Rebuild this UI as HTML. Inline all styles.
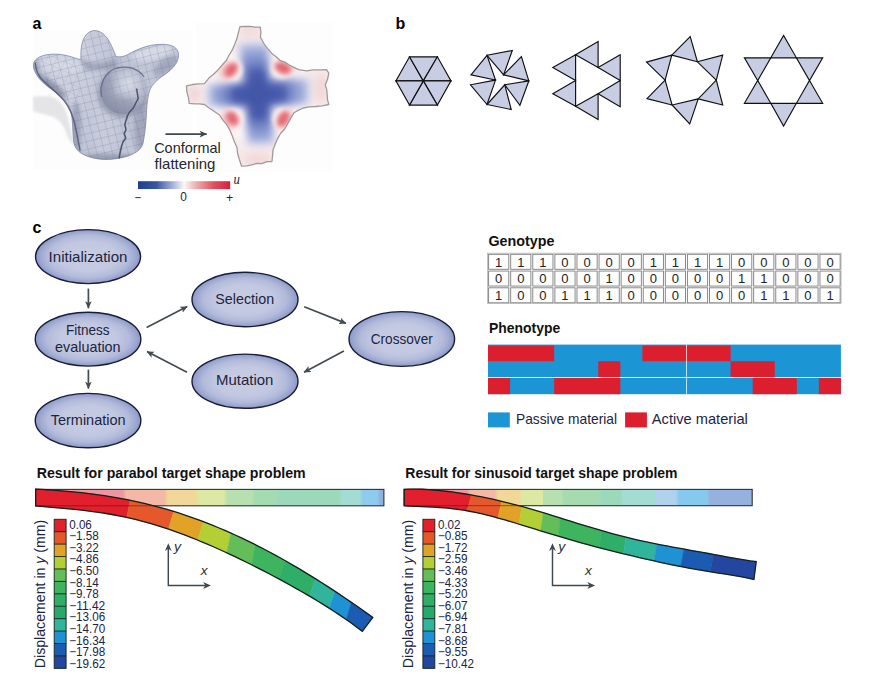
<!DOCTYPE html>
<html><head><meta charset="utf-8"><title>figure</title>
<style>
html,body{margin:0;padding:0;background:#fff;}
body{width:871px;height:688px;overflow:hidden;font-family:"Liberation Sans",sans-serif;}
svg{display:block;font-family:"Liberation Sans",sans-serif;}
.it{font-family:"Liberation Sans",sans-serif;font-style:italic;}
</style></head><body>
<svg width="871" height="688" viewBox="0 0 871 688">
<defs>
<filter id="bl1" x="-30%" y="-30%" width="160%" height="160%"><feGaussianBlur stdDeviation="1"/></filter>
<filter id="bl2" x="-30%" y="-30%" width="160%" height="160%"><feGaussianBlur stdDeviation="2.2"/></filter>
<filter id="bl3" x="-40%" y="-40%" width="180%" height="180%"><feGaussianBlur stdDeviation="3.5"/></filter>
<filter id="bl4" x="-40%" y="-40%" width="180%" height="180%"><feGaussianBlur stdDeviation="4.3"/></filter>
<filter id="bl25" x="-40%" y="-40%" width="180%" height="180%"><feGaussianBlur stdDeviation="2.7"/></filter>
<filter id="bl5" x="-40%" y="-40%" width="180%" height="180%"><feGaussianBlur stdDeviation="5"/></filter>
<filter id="bl8" x="-50%" y="-50%" width="200%" height="200%"><feGaussianBlur stdDeviation="7"/></filter>
<clipPath id="bodyclip"><path d="M81,59.5 C80.5,50 81.5,41 85.3,36 C88,32 91.5,30.6 95,30.6 C100.5,30.8 104.5,34.5 107.8,39 C111,44 113.5,50 116,56.5 C120,57.5 124,56.5 128,54.5 C134,51 140,48.3 146,46.6 C152,44.8 158,44.2 164.5,44.4 C171,44.8 175.5,46.6 177.5,50.5 C179.4,54.5 178.6,59 176,63.5 C173,68.5 168,72.5 162,76.5 C157,80 152,84.5 149.8,90 C147.8,96 147,103 146.6,110 C146.2,121 145.2,132 143.2,142.5 C142,148.5 137,152.5 129.5,155.5 C122,158.3 113,159.6 104,159.4 C96,159.2 88.5,157.3 82.5,154 C77,150.8 74.2,146.5 73.6,141 C72.8,133 72.8,125 72,118 C71.2,111 69,105.5 65,100.5 C60,95 53,90.5 47,86 C41,81.3 36.5,76 34.2,70 C32.6,65.5 33.4,61.5 36.5,59 C40,56 45,54.6 51,54.2 C58,53.8 65,54.8 72,57 C75.5,58.2 78.5,59.4 81,59.5 Z"/></clipPath>
<linearGradient id="bodyg" x1="0" y1="0" x2="1" y2="0.25">
<stop offset="0" stop-color="#c8cfe7"/><stop offset="0.3" stop-color="#ccd2e9"/>
<stop offset="0.6" stop-color="#bcc4e0"/><stop offset="1" stop-color="#c0c8e2"/></linearGradient>
<pattern id="grid" width="7.6" height="7.6" patternUnits="userSpaceOnUse" patternTransform="rotate(-14 100 100)">
<path d="M0,0 H7.6 M0,0 V7.6" stroke="#5f6a98" stroke-width="0.75" fill="none" opacity="0.5"/></pattern>
<pattern id="grid2" width="8.6" height="8.6" patternUnits="userSpaceOnUse" patternTransform="rotate(24 60 70)">
<path d="M0,0 H8.6 M0,0 V8.6" stroke="#5f6a98" stroke-width="0.7" fill="none" opacity="0.45"/></pattern>
<filter id="photo" x="-5%" y="-5%" width="110%" height="110%" color-interpolation-filters="sRGB"><feColorMatrix type="saturate" values="0.62"/><feGaussianBlur stdDeviation="0.35"/></filter>
<radialGradient id="sphg" cx="0.62" cy="0.36" r="0.66">
<stop offset="0" stop-color="#d6dbed"/><stop offset="0.4" stop-color="#bcc3de"/>
<stop offset="0.8" stop-color="#9ca6ca"/><stop offset="1" stop-color="#828cb4"/></radialGradient>
<clipPath id="sphclip"><ellipse cx="123.2" cy="90.4" rx="22.6" ry="23.6"/></clipPath>
<marker id="ah2" viewBox="0 0 10 10" refX="9.4" refY="5" markerWidth="5.1" markerHeight="4.6" markerUnits="strokeWidth" orient="auto">
<path d="M0,0.3 L10,5 L0,9.7 L2.4,5 Z" fill="#3f474e"/></marker>
<linearGradient id="cbar" x1="0" y1="0" x2="1" y2="0">
<stop offset="0" stop-color="#1f3f90"/><stop offset="0.2" stop-color="#3a56a5"/><stop offset="0.38" stop-color="#a9b4dc"/>
<stop offset="0.5" stop-color="#fbf8fa"/><stop offset="0.62" stop-color="#efb3b6"/><stop offset="0.82" stop-color="#df5260"/>
<stop offset="1" stop-color="#d81f3e"/></linearGradient>
<clipPath id="hmclip"><polygon points="240,26.6 245.06,26.48 250.11,26.36 255.14,27.19 260.2,27.1 260.9,32.09 260.4,37.1 264.9,45.2 268.36,49.33 271.9,53.4 276.07,56.71 280,60.3 284.93,62.1 289.3,65 293.95,67.36 298.6,69.7 306.7,70.8 313.26,69.79 319.89,69.97 326.5,69.7 328.8,73.1 327.63,79.12 325.3,84.8 326.74,89.62 327.15,94.63 327.47,99.66 328.8,104.5 322.3,105.82 315.71,106.48 309.1,106.9 303.3,108 298.57,110.19 294,112.7 289.3,120.8 284.7,129 280.7,133.27 277.7,138.3 275.25,144.06 273,149.9 272.59,155.71 271.9,161.5 266.75,161.62 261.9,163.69 256.67,163.35 251.75,164.92 246.73,165.91 241.6,166.2 239.3,159.2 237.63,153.5 237,147.6 234.4,141.85 232.3,135.9 229.8,129.9 226.5,124.3 222.64,119.92 219.5,115 214.36,111.41 209.1,108 204.4,104.5 199.38,103.94 194.32,103.94 189.3,103.4 188.43,97.56 186.83,91.83 186.5,85.9 192.39,84.52 198.38,83.96 204.4,83.6 209.1,77.8 213.32,74.49 217.2,70.8 221.77,65.48 226.5,60.3 229.17,54.97 232.3,49.9 234.76,44.14 237,38.3 238.44,32.43"/></clipPath>
<radialGradient id="hmb" cx="257.5" cy="94.5" r="56" gradientUnits="userSpaceOnUse">
<stop offset="0" stop-color="#4557a9"/><stop offset="0.3" stop-color="#5265b2"/>
<stop offset="0.58" stop-color="#7486c7"/><stop offset="0.82" stop-color="#a3b0dd"/><stop offset="1" stop-color="#ccd3ee"/></radialGradient>
<radialGradient id="egrad" cx="50%" cy="50%" r="50%">
<stop offset="0" stop-color="#c8cde4"/>
<stop offset="0.55" stop-color="#c2c8e1"/>
<stop offset="0.78" stop-color="#b3bbdb"/>
<stop offset="0.92" stop-color="#9ca7d0"/>
<stop offset="1" stop-color="#8a96c6"/>
</radialGradient>
<marker id="ah" viewBox="0 0 10 10" refX="9.4" refY="5" markerWidth="4.3" markerHeight="4.3" markerUnits="strokeWidth" orient="auto">
<path d="M0,0.5 L10,5 L0,9.5 L2.4,5 Z" fill="#444c52"/></marker>
<linearGradient id="sb1" x1="0" y1="0" x2="1" y2="0"><stop offset="0" stop-color="#ee97a0"/><stop offset="0.25" stop-color="#ee97a0"/><stop offset="0.26" stop-color="#f3b9a6"/><stop offset="0.37" stop-color="#f3b9a6"/><stop offset="0.38" stop-color="#f1d899"/><stop offset="0.46" stop-color="#f1d899"/><stop offset="0.47" stop-color="#dde9a2"/><stop offset="0.54" stop-color="#dde9a2"/><stop offset="0.55" stop-color="#b7dfb0"/><stop offset="0.62" stop-color="#b7dfb0"/><stop offset="0.63" stop-color="#a6dbb2"/><stop offset="0.69" stop-color="#a6dbb2"/><stop offset="0.7" stop-color="#9cd9ba"/><stop offset="0.87" stop-color="#9cd9ba"/><stop offset="0.88" stop-color="#a2dcd2"/><stop offset="0.93" stop-color="#a2dcd2"/><stop offset="0.94" stop-color="#8ecbee"/><stop offset="0.98" stop-color="#8ecbee"/><stop offset="0.99" stop-color="#8cb2de"/><stop offset="1" stop-color="#8cb2de"/></linearGradient>
<linearGradient id="sb2" x1="0" y1="0" x2="1" y2="0"><stop offset="0" stop-color="#ee97a0"/><stop offset="0.18" stop-color="#ee97a0"/><stop offset="0.19" stop-color="#f3b9a6"/><stop offset="0.26" stop-color="#f3b9a6"/><stop offset="0.27" stop-color="#f1d899"/><stop offset="0.33" stop-color="#f1d899"/><stop offset="0.34" stop-color="#dde9a2"/><stop offset="0.4" stop-color="#dde9a2"/><stop offset="0.4" stop-color="#b7dfb0"/><stop offset="0.45" stop-color="#b7dfb0"/><stop offset="0.46" stop-color="#a6dbb2"/><stop offset="0.56" stop-color="#a6dbb2"/><stop offset="0.57" stop-color="#9cd9ba"/><stop offset="0.62" stop-color="#9cd9ba"/><stop offset="0.63" stop-color="#a2dcd2"/><stop offset="0.72" stop-color="#a2dcd2"/><stop offset="0.72" stop-color="#b1d2ee"/><stop offset="0.78" stop-color="#b1d2ee"/><stop offset="0.79" stop-color="#86c9ee"/><stop offset="0.87" stop-color="#86c9ee"/><stop offset="0.88" stop-color="#96b1dd"/><stop offset="1" stop-color="#96b1dd"/></linearGradient>
</defs>
<rect x="0" y="0" width="871" height="688" fill="#ffffff"/>
<text x="32.4" y="28.8" font-size="16" font-weight="bold" font-style="normal" text-anchor="start" fill="#000">a</text>
<text x="395.6" y="28.8" font-size="16" font-weight="bold" font-style="normal" text-anchor="start" fill="#000">b</text>
<text x="32.6" y="232.9" font-size="16" font-weight="bold" font-style="normal" text-anchor="start" fill="#000">c</text>
<rect x="196" y="22" width="137" height="150" fill="#fefdfd"/>
<rect x="33" y="30" width="160" height="140" fill="#fdfdfd"/>
<path d="M33.1,96.5 L47,96 C54,96.5 60,100 64.5,108 C68,115 70.5,127 73.8,146 L68,138 C65.5,130 63,124 58,120 C53,116 45,114.5 33.1,111.5 Z" fill="#e4e4e6" filter="url(#bl1)" opacity="0.95"/>
<g filter="url(#photo)">
<path d="M81,59.5 C80.5,50 81.5,41 85.3,36 C88,32 91.5,30.6 95,30.6 C100.5,30.8 104.5,34.5 107.8,39 C111,44 113.5,50 116,56.5 C120,57.5 124,56.5 128,54.5 C134,51 140,48.3 146,46.6 C152,44.8 158,44.2 164.5,44.4 C171,44.8 175.5,46.6 177.5,50.5 C179.4,54.5 178.6,59 176,63.5 C173,68.5 168,72.5 162,76.5 C157,80 152,84.5 149.8,90 C147.8,96 147,103 146.6,110 C146.2,121 145.2,132 143.2,142.5 C142,148.5 137,152.5 129.5,155.5 C122,158.3 113,159.6 104,159.4 C96,159.2 88.5,157.3 82.5,154 C77,150.8 74.2,146.5 73.6,141 C72.8,133 72.8,125 72,118 C71.2,111 69,105.5 65,100.5 C60,95 53,90.5 47,86 C41,81.3 36.5,76 34.2,70 C32.6,65.5 33.4,61.5 36.5,59 C40,56 45,54.6 51,54.2 C58,53.8 65,54.8 72,57 C75.5,58.2 78.5,59.4 81,59.5 Z" fill="url(#bodyg)"/>
<g clip-path="url(#bodyclip)">
<ellipse cx="96" cy="40" rx="9" ry="9" fill="#c3c9e3" filter="url(#bl2)"/>
<path d="M81,58 C90,66 105,64 117,57 L117,70 L80,70 Z" fill="#929cc1" filter="url(#bl2)" opacity="0.85"/>
<ellipse cx="62" cy="65" rx="23" ry="7.5" fill="#d3d8ec" filter="url(#bl2)" opacity="0.95" transform="rotate(8 62 65)"/>
<ellipse cx="152" cy="53" rx="21" ry="6.5" fill="#d6dbee" filter="url(#bl2)" opacity="0.95" transform="rotate(-12 152 53)"/>
<ellipse cx="166" cy="66" rx="14" ry="7" fill="#919bc0" filter="url(#bl2)" opacity="0.7" transform="rotate(-35 166 66)"/>
<ellipse cx="50" cy="86" rx="20" ry="5.5" fill="#8690b7" filter="url(#bl2)" opacity="0.9" transform="rotate(38 50 86)"/>
<ellipse cx="36" cy="68" rx="3.5" ry="9" fill="#8f99be" filter="url(#bl2)" opacity="0.8"/>
<ellipse cx="105" cy="120" rx="14" ry="38" fill="#c5cbe4" filter="url(#bl3)" opacity="0.9"/>
<ellipse cx="76" cy="130" rx="5" ry="28" fill="#919bc0" filter="url(#bl2)" opacity="0.85"/>
<ellipse cx="141" cy="125" rx="7" ry="30" fill="#98a2c6" filter="url(#bl2)" opacity="0.9"/>
<ellipse cx="108" cy="159" rx="34" ry="5" fill="#8e98bd" filter="url(#bl2)" opacity="0.9"/>
<path d="M81,59.5 C80.5,50 81.5,41 85.3,36 C88,32 91.5,30.6 95,30.6 C100.5,30.8 104.5,34.5 107.8,39 C111,44 113.5,50 116,56.5 C120,57.5 124,56.5 128,54.5 C134,51 140,48.3 146,46.6 C152,44.8 158,44.2 164.5,44.4 C171,44.8 175.5,46.6 177.5,50.5 C179.4,54.5 178.6,59 176,63.5 C173,68.5 168,72.5 162,76.5 C157,80 152,84.5 149.8,90 C147.8,96 147,103 146.6,110 C146.2,121 145.2,132 143.2,142.5 C142,148.5 137,152.5 129.5,155.5 C122,158.3 113,159.6 104,159.4 C96,159.2 88.5,157.3 82.5,154 C77,150.8 74.2,146.5 73.6,141 C72.8,133 72.8,125 72,118 C71.2,111 69,105.5 65,100.5 C60,95 53,90.5 47,86 C41,81.3 36.5,76 34.2,70 C32.6,65.5 33.4,61.5 36.5,59 C40,56 45,54.6 51,54.2 C58,53.8 65,54.8 72,57 C75.5,58.2 78.5,59.4 81,59.5 Z" fill="url(#grid)"/>
<path d="M30,50 H80 V104 H30 Z" fill="url(#grid2)" opacity="0.6"/>
</g>
<path d="M81,59.5 C80.5,50 81.5,41 85.3,36 C88,32 91.5,30.6 95,30.6 C100.5,30.8 104.5,34.5 107.8,39 C111,44 113.5,50 116,56.5 C120,57.5 124,56.5 128,54.5 C134,51 140,48.3 146,46.6 C152,44.8 158,44.2 164.5,44.4 C171,44.8 175.5,46.6 177.5,50.5 C179.4,54.5 178.6,59 176,63.5 C173,68.5 168,72.5 162,76.5 C157,80 152,84.5 149.8,90 C147.8,96 147,103 146.6,110 C146.2,121 145.2,132 143.2,142.5 C142,148.5 137,152.5 129.5,155.5 C122,158.3 113,159.6 104,159.4 C96,159.2 88.5,157.3 82.5,154 C77,150.8 74.2,146.5 73.6,141 C72.8,133 72.8,125 72,118 C71.2,111 69,105.5 65,100.5 C60,95 53,90.5 47,86 C41,81.3 36.5,76 34.2,70 C32.6,65.5 33.4,61.5 36.5,59 C40,56 45,54.6 51,54.2 C58,53.8 65,54.8 72,57 C75.5,58.2 78.5,59.4 81,59.5 Z" fill="none" stroke="#7b86b0" stroke-width="0.9" opacity="0.85"/>
<ellipse cx="122" cy="93" rx="24.5" ry="24.5" fill="#8690b6" filter="url(#bl2)" opacity="0.75" clip-path="url(#bodyclip)"/>
<ellipse cx="123.2" cy="90.4" rx="22.6" ry="23.6" fill="url(#sphg)"/>
<g clip-path="url(#sphclip)"><rect x="95" y="60" width="60" height="60" fill="url(#grid)" opacity="0.75"/>
<ellipse cx="118" cy="106" rx="18" ry="9" fill="#8892b8" filter="url(#bl3)" opacity="0.65"/>
<ellipse cx="106" cy="92" rx="8" ry="20" fill="#8a94ba" filter="url(#bl3)" opacity="0.6"/></g>
<path d="M101.5,97 C99,84 105,71.5 117,68 C128,65.2 139,69 144,77" fill="none" stroke="#5c6794" stroke-width="1.3" opacity="0.85"/>
<path d="M136.6,88.5 L138.2,98.5 L135.8,103 L133.4,108 L129.5,112 L127.6,115.5 L125.8,121 L124.8,124.5 L126,129.5 L124.2,133.6 L125.8,138 L123.2,141.5 L121.6,146 L120.6,150.5 L119.6,155 L119.2,158.4" fill="none" stroke="#48527c" stroke-width="1.5" stroke-linejoin="round"/>
<path d="M35.2,62.5 C35.5,70 38,76 44,81.5 C50,87 58,93.5 64,100.5 C70,108 73,116 75,125 C77,134 78.6,143 80,150.5" fill="none" stroke="#525c8a" stroke-width="1.4" opacity="0.9"/>
</g>
<line x1="165.5" y1="134.1" x2="206.6" y2="134.1" stroke="#3f474e" stroke-width="1.6" marker-end="url(#ah2)"/>
<text x="154.2" y="153" font-size="14.6" font-weight="normal" font-style="normal" text-anchor="start" fill="#26262b" textLength="66.6" lengthAdjust="spacingAndGlyphs">Conformal</text>
<text x="154.6" y="168.6" font-size="14.6" font-weight="normal" font-style="normal" text-anchor="start" fill="#26262b" textLength="60.8" lengthAdjust="spacingAndGlyphs">flattening</text>
<rect x="138" y="181.2" width="92.2" height="7.8" fill="url(#cbar)"/>
<text x="233.6" y="183.6" font-family='"Liberation Serif", serif' font-style="italic" font-size="14.6" fill="#26262b" textLength="6.4" lengthAdjust="spacingAndGlyphs">u</text>
<text x="134.4" y="202" font-size="12.4" font-weight="normal" font-style="normal" text-anchor="start" fill="#26262b" textLength="6.6" lengthAdjust="spacingAndGlyphs">−</text>
<text x="180.2" y="201.3" font-size="12.6" font-weight="normal" font-style="normal" text-anchor="start" fill="#26262b" textLength="6.6" lengthAdjust="spacingAndGlyphs">0</text>
<text x="226" y="202" font-size="12.4" font-weight="normal" font-style="normal" text-anchor="start" fill="#26262b" textLength="7.2" lengthAdjust="spacingAndGlyphs">+</text>
<polygon points="240,26.6 245.06,26.48 250.11,26.36 255.14,27.19 260.2,27.1 260.9,32.09 260.4,37.1 264.9,45.2 268.36,49.33 271.9,53.4 276.07,56.71 280,60.3 284.93,62.1 289.3,65 293.95,67.36 298.6,69.7 306.7,70.8 313.26,69.79 319.89,69.97 326.5,69.7 328.8,73.1 327.63,79.12 325.3,84.8 326.74,89.62 327.15,94.63 327.47,99.66 328.8,104.5 322.3,105.82 315.71,106.48 309.1,106.9 303.3,108 298.57,110.19 294,112.7 289.3,120.8 284.7,129 280.7,133.27 277.7,138.3 275.25,144.06 273,149.9 272.59,155.71 271.9,161.5 266.75,161.62 261.9,163.69 256.67,163.35 251.75,164.92 246.73,165.91 241.6,166.2 239.3,159.2 237.63,153.5 237,147.6 234.4,141.85 232.3,135.9 229.8,129.9 226.5,124.3 222.64,119.92 219.5,115 214.36,111.41 209.1,108 204.4,104.5 199.38,103.94 194.32,103.94 189.3,103.4 188.43,97.56 186.83,91.83 186.5,85.9 192.39,84.52 198.38,83.96 204.4,83.6 209.1,77.8 213.32,74.49 217.2,70.8 221.77,65.48 226.5,60.3 229.17,54.97 232.3,49.9 234.76,44.14 237,38.3 238.44,32.43" fill="#f7eaea"/>
<g clip-path="url(#hmclip)">
<g filter="url(#bl3)" fill="#efcccd" opacity="0.6">
<ellipse cx="194" cy="94" rx="7" ry="9"/><ellipse cx="321" cy="88" rx="7" ry="14"/>
<ellipse cx="250" cy="31" rx="10" ry="5"/><ellipse cx="257" cy="159" rx="14" ry="6"/>
</g>
<ellipse cx="257.6" cy="94.3" rx="50" ry="48" fill="#fdf9fa" filter="url(#bl5)" opacity="0.9"/>
<g filter="url(#bl4)" fill="url(#hmb)">
<polygon points="238.5,43.5 268.5,43.5 270,94 245,94"/>
<polygon points="245,94 270,94 274.5,144 247.5,144"/>
<polygon points="208,84.5 258,82 258,107 208,106"/>
<polygon points="258,80 309,78.5 309,104 258,107"/>
</g>
<g filter="url(#bl3)" fill="#4254a7" opacity="0.8">
<polygon points="250.5,70 263.5,70 265.5,119 252.5,119"/>
<polygon points="232,88.5 286,87 286,100 232,101.5"/>
</g>
<g filter="url(#bl2)" fill="#fdf6f6" opacity="0.97">
<circle cx="232.4" cy="69.2" r="10.2"/>
<circle cx="282.4" cy="67.6" r="10.6"/>
<circle cx="232.6" cy="118.6" r="10.2"/>
<circle cx="283.0" cy="119.2" r="10.4"/>
</g>
<g filter="url(#bl3)" fill="#f2b4b6" opacity="0.85">
<ellipse cx="226.5" cy="70.5" rx="6" ry="10" transform="rotate(40 226.5 70.5)"/>
<ellipse cx="286.5" cy="65.8" rx="10" ry="5.5" transform="rotate(24 286.5 65.8)"/>
<ellipse cx="228.5" cy="120.5" rx="6" ry="9.5" transform="rotate(-36 228.5 120.5)"/>
<ellipse cx="286.0" cy="120.0" rx="5.5" ry="10" transform="rotate(30 286 120)"/>
</g>
<g filter="url(#bl25)" fill="#e05560" opacity="0.85">
<ellipse cx="231.4" cy="70.0" rx="5.4" ry="8.2" transform="rotate(38 231.4 70)"/>
<ellipse cx="282.6" cy="68.2" rx="8.6" ry="5.4" transform="rotate(24 282.6 68.2)"/>
<ellipse cx="232.6" cy="118.2" rx="5.4" ry="8.0" transform="rotate(-34 232.6 118.2)"/>
<ellipse cx="283.0" cy="118.8" rx="5.2" ry="8.6" transform="rotate(30 283 118.8)"/>
</g>
</g>
<polygon points="240,26.6 245.06,26.48 250.11,26.36 255.14,27.19 260.2,27.1 260.9,32.09 260.4,37.1 264.9,45.2 268.36,49.33 271.9,53.4 276.07,56.71 280,60.3 284.93,62.1 289.3,65 293.95,67.36 298.6,69.7 306.7,70.8 313.26,69.79 319.89,69.97 326.5,69.7 328.8,73.1 327.63,79.12 325.3,84.8 326.74,89.62 327.15,94.63 327.47,99.66 328.8,104.5 322.3,105.82 315.71,106.48 309.1,106.9 303.3,108 298.57,110.19 294,112.7 289.3,120.8 284.7,129 280.7,133.27 277.7,138.3 275.25,144.06 273,149.9 272.59,155.71 271.9,161.5 266.75,161.62 261.9,163.69 256.67,163.35 251.75,164.92 246.73,165.91 241.6,166.2 239.3,159.2 237.63,153.5 237,147.6 234.4,141.85 232.3,135.9 229.8,129.9 226.5,124.3 222.64,119.92 219.5,115 214.36,111.41 209.1,108 204.4,104.5 199.38,103.94 194.32,103.94 189.3,103.4 188.43,97.56 186.83,91.83 186.5,85.9 192.39,84.52 198.38,83.96 204.4,83.6 209.1,77.8 213.32,74.49 217.2,70.8 221.77,65.48 226.5,60.3 229.17,54.97 232.3,49.9 234.76,44.14 237,38.3 238.44,32.43" fill="none" stroke="#a29a9a" stroke-width="1.3" stroke-linejoin="round"/>
<g fill="#c9cde3" stroke="#101014" stroke-width="1.15" stroke-linejoin="miter">
<polygon points="423.3,80.9 395.9,80.9 409.5,56.8"/>
<polygon points="423.3,80.9 409.5,56.8 437.4,56.8"/>
<polygon points="423.3,80.9 437.4,56.8 451,80.9"/>
<polygon points="423.3,80.9 451,80.9 437.4,105.1"/>
<polygon points="423.3,80.9 437.4,105.1 409.5,105.1"/>
<polygon points="423.3,80.9 409.5,105.1 395.9,80.9"/>
<polygon points="487,55.3 471,74.9 495.5,80.1"/>
<polygon points="487,55.3 512.3,50.5 503.6,74.9"/>
<polygon points="503.6,74.9 521.4,56.5 528.8,80.9"/>
<polygon points="528.8,80.9 504.8,84.8 519.9,105.3"/>
<polygon points="504.8,84.8 511.2,109.5 487,104.5"/>
<polygon points="487,104.5 470.5,84.8 495.5,80.1"/>
<polygon points="575.6,54.7 552.8,67.5 575.6,80.6"/>
<polygon points="575.6,54.7 598.1,41.6 598.1,67.5"/>
<polygon points="598.1,67.5 620.2,54.7 620.2,80.6"/>
<polygon points="620.2,80.6 598.1,93.7 620.2,106.7"/>
<polygon points="598.1,93.7 598.1,119.4 575.6,106.3"/>
<polygon points="575.6,106.3 552.8,93.7 575.6,80.6"/>
<polygon points="671.8,55.1 646.5,62.1 665.1,80.2"/>
<polygon points="671.8,55.1 690.2,36.5 697.4,61.8"/>
<polygon points="697.4,61.8 722.7,55.1 716.3,80.2"/>
<polygon points="716.3,80.2 722.7,105 698.2,98.9"/>
<polygon points="698.2,98.9 689.7,123.9 672.1,105"/>
<polygon points="672.1,105 647,98.6 665.1,80.2"/>
<polygon points="770.8,57.8 783.6,35.4 796.4,57.8"/>
<polygon points="796.4,57.8 822.7,57.8 809.5,80.5"/>
<polygon points="809.5,80.5 822.7,103.3 796.4,103.3"/>
<polygon points="796.4,103.3 783.6,126 770.8,103.3"/>
<polygon points="770.8,103.3 744.4,103.3 757.7,80.5"/>
<polygon points="757.7,80.5 744.4,57.8 770.8,57.8"/>
</g>
<ellipse cx="88.05" cy="256.6" rx="52.5" ry="27" fill="url(#egrad)" stroke="#171d38" stroke-width="1.4"/>
<ellipse cx="88.05" cy="339.2" rx="52.8" ry="26.9" fill="url(#egrad)" stroke="#171d38" stroke-width="1.4"/>
<ellipse cx="88.05" cy="420.6" rx="52.8" ry="27.2" fill="url(#egrad)" stroke="#171d38" stroke-width="1.4"/>
<ellipse cx="245" cy="299.5" rx="53" ry="27.2" fill="url(#egrad)" stroke="#171d38" stroke-width="1.4"/>
<ellipse cx="245" cy="381.2" rx="53" ry="27.1" fill="url(#egrad)" stroke="#171d38" stroke-width="1.4"/>
<ellipse cx="401.8" cy="339" rx="52.8" ry="27.4" fill="url(#egrad)" stroke="#171d38" stroke-width="1.4"/>
<text x="48.6" y="262.2" font-size="14.8" font-weight="normal" font-style="normal" text-anchor="start" fill="#1d2440" textLength="78.9" lengthAdjust="spacingAndGlyphs">Initialization</text>
<text x="66" y="335.3" font-size="14.8" font-weight="normal" font-style="normal" text-anchor="start" fill="#1d2440" textLength="43.6" lengthAdjust="spacingAndGlyphs">Fitness</text>
<text x="55.1" y="351.9" font-size="14.8" font-weight="normal" font-style="normal" text-anchor="start" fill="#1d2440" textLength="65.5" lengthAdjust="spacingAndGlyphs">evaluation</text>
<text x="50.7" y="424.8" font-size="14.8" font-weight="normal" font-style="normal" text-anchor="start" fill="#1d2440" textLength="74.9" lengthAdjust="spacingAndGlyphs">Termination</text>
<text x="215.3" y="303.6" font-size="14.8" font-weight="normal" font-style="normal" text-anchor="start" fill="#1d2440" textLength="58.8" lengthAdjust="spacingAndGlyphs">Selection</text>
<text x="216" y="385" font-size="14.8" font-weight="normal" font-style="normal" text-anchor="start" fill="#1d2440" textLength="57.4" lengthAdjust="spacingAndGlyphs">Mutation</text>
<text x="370.7" y="343.8" font-size="14.8" font-weight="normal" font-style="normal" text-anchor="start" fill="#1d2440" textLength="62.1" lengthAdjust="spacingAndGlyphs">Crossover</text>
<line x1="88.4" y1="288.6" x2="88.4" y2="308.2" stroke="#444c52" stroke-width="1.7" marker-end="url(#ah)"/>
<line x1="88.4" y1="369.6" x2="88.4" y2="388.6" stroke="#444c52" stroke-width="1.7" marker-end="url(#ah)"/>
<line x1="146.6" y1="327.4" x2="187.2" y2="306.6" stroke="#444c52" stroke-width="1.7" marker-end="url(#ah)"/>
<line x1="304.2" y1="306.7" x2="346" y2="323.4" stroke="#444c52" stroke-width="1.7" marker-end="url(#ah)"/>
<line x1="343.9" y1="351.1" x2="304" y2="372.2" stroke="#444c52" stroke-width="1.7" marker-end="url(#ah)"/>
<line x1="187" y1="372.2" x2="147" y2="351.6" stroke="#444c52" stroke-width="1.7" marker-end="url(#ah)"/>
<text x="488.5" y="245.9" font-size="14" font-weight="bold" font-style="normal" text-anchor="start" fill="#111" textLength="65.9" lengthAdjust="spacingAndGlyphs">Genotype</text>
<rect x="487.5" y="253.2" width="353.6" height="50" fill="#fff" stroke="#b3b3b3" stroke-width="0.8"/>
<g fill="#fdfdfd" stroke="#7e7e7e" stroke-width="0.9">
<rect x="488.6" y="254.3" width="20.2" height="15.0"/>
<rect x="510.69" y="254.3" width="20.2" height="15.0"/>
<rect x="532.78" y="254.3" width="20.2" height="15.0"/>
<rect x="554.87" y="254.3" width="20.2" height="15.0"/>
<rect x="576.96" y="254.3" width="20.2" height="15.0"/>
<rect x="599.05" y="254.3" width="20.2" height="15.0"/>
<rect x="621.14" y="254.3" width="20.2" height="15.0"/>
<rect x="643.23" y="254.3" width="20.2" height="15.0"/>
<rect x="665.32" y="254.3" width="20.2" height="15.0"/>
<rect x="687.41" y="254.3" width="20.2" height="15.0"/>
<rect x="709.5" y="254.3" width="20.2" height="15.0"/>
<rect x="731.59" y="254.3" width="20.2" height="15.0"/>
<rect x="753.68" y="254.3" width="20.2" height="15.0"/>
<rect x="775.77" y="254.3" width="20.2" height="15.0"/>
<rect x="797.86" y="254.3" width="20.2" height="15.0"/>
<rect x="819.95" y="254.3" width="20.2" height="15.0"/>
<rect x="488.6" y="271.05" width="20.2" height="15.0"/>
<rect x="510.69" y="271.05" width="20.2" height="15.0"/>
<rect x="532.78" y="271.05" width="20.2" height="15.0"/>
<rect x="554.87" y="271.05" width="20.2" height="15.0"/>
<rect x="576.96" y="271.05" width="20.2" height="15.0"/>
<rect x="599.05" y="271.05" width="20.2" height="15.0"/>
<rect x="621.14" y="271.05" width="20.2" height="15.0"/>
<rect x="643.23" y="271.05" width="20.2" height="15.0"/>
<rect x="665.32" y="271.05" width="20.2" height="15.0"/>
<rect x="687.41" y="271.05" width="20.2" height="15.0"/>
<rect x="709.5" y="271.05" width="20.2" height="15.0"/>
<rect x="731.59" y="271.05" width="20.2" height="15.0"/>
<rect x="753.68" y="271.05" width="20.2" height="15.0"/>
<rect x="775.77" y="271.05" width="20.2" height="15.0"/>
<rect x="797.86" y="271.05" width="20.2" height="15.0"/>
<rect x="819.95" y="271.05" width="20.2" height="15.0"/>
<rect x="488.6" y="287.8" width="20.2" height="15.0"/>
<rect x="510.69" y="287.8" width="20.2" height="15.0"/>
<rect x="532.78" y="287.8" width="20.2" height="15.0"/>
<rect x="554.87" y="287.8" width="20.2" height="15.0"/>
<rect x="576.96" y="287.8" width="20.2" height="15.0"/>
<rect x="599.05" y="287.8" width="20.2" height="15.0"/>
<rect x="621.14" y="287.8" width="20.2" height="15.0"/>
<rect x="643.23" y="287.8" width="20.2" height="15.0"/>
<rect x="665.32" y="287.8" width="20.2" height="15.0"/>
<rect x="687.41" y="287.8" width="20.2" height="15.0"/>
<rect x="709.5" y="287.8" width="20.2" height="15.0"/>
<rect x="731.59" y="287.8" width="20.2" height="15.0"/>
<rect x="753.68" y="287.8" width="20.2" height="15.0"/>
<rect x="775.77" y="287.8" width="20.2" height="15.0"/>
<rect x="797.86" y="287.8" width="20.2" height="15.0"/>
<rect x="819.95" y="287.8" width="20.2" height="15.0"/>
</g>
<g font-size="13" text-anchor="middle" fill="#222">
<text x="498.7" y="266.5">1</text>
<text x="520.79" y="266.5">1</text>
<text x="542.88" y="266.5">1</text>
<text x="564.97" y="266.5">0</text>
<text x="587.06" y="266.5">0</text>
<text x="609.15" y="266.5">0</text>
<text x="631.24" y="266.5">0</text>
<text x="653.33" y="266.5">1</text>
<text x="675.42" y="266.5">1</text>
<text x="697.51" y="266.5">1</text>
<text x="719.6" y="266.5">1</text>
<text x="741.69" y="266.5">0</text>
<text x="763.78" y="266.5">0</text>
<text x="785.87" y="266.5">0</text>
<text x="807.96" y="266.5">0</text>
<text x="830.05" y="266.5">0</text>
<text x="498.7" y="283.25">0</text>
<text x="520.79" y="283.25">0</text>
<text x="542.88" y="283.25">0</text>
<text x="564.97" y="283.25">0</text>
<text x="587.06" y="283.25">0</text>
<text x="609.15" y="283.25">1</text>
<text x="631.24" y="283.25">0</text>
<text x="653.33" y="283.25">0</text>
<text x="675.42" y="283.25">0</text>
<text x="697.51" y="283.25">0</text>
<text x="719.6" y="283.25">0</text>
<text x="741.69" y="283.25">1</text>
<text x="763.78" y="283.25">1</text>
<text x="785.87" y="283.25">0</text>
<text x="807.96" y="283.25">0</text>
<text x="830.05" y="283.25">0</text>
<text x="498.7" y="300">1</text>
<text x="520.79" y="300">0</text>
<text x="542.88" y="300">0</text>
<text x="564.97" y="300">1</text>
<text x="587.06" y="300">1</text>
<text x="609.15" y="300">1</text>
<text x="631.24" y="300">0</text>
<text x="653.33" y="300">0</text>
<text x="675.42" y="300">0</text>
<text x="697.51" y="300">0</text>
<text x="719.6" y="300">0</text>
<text x="741.69" y="300">0</text>
<text x="763.78" y="300">1</text>
<text x="785.87" y="300">1</text>
<text x="807.96" y="300">0</text>
<text x="830.05" y="300">1</text>
</g>
<text x="489" y="332.9" font-size="14" font-weight="bold" font-style="normal" text-anchor="start" fill="#111" textLength="71.2" lengthAdjust="spacingAndGlyphs">Phenotype</text>
<rect x="488" y="344.6" width="352.9" height="49.6" fill="#1b95d3"/>
<rect x="488" y="345.6" width="66.17" height="15.6" fill="#dc1f2e"/>
<rect x="642.39" y="345.6" width="88.22" height="15.6" fill="#dc1f2e"/>
<rect x="598.28" y="361.2" width="22.06" height="16.2" fill="#dc1f2e"/>
<rect x="730.62" y="361.2" width="44.11" height="16.2" fill="#dc1f2e"/>
<rect x="488" y="377.4" width="22.06" height="16.8" fill="#dc1f2e"/>
<rect x="554.17" y="377.4" width="66.17" height="16.8" fill="#dc1f2e"/>
<rect x="752.67" y="377.4" width="44.11" height="16.8" fill="#dc1f2e"/>
<rect x="818.84" y="377.4" width="22.06" height="16.8" fill="#dc1f2e"/>
<line x1="488" y1="377.5" x2="840.9" y2="377.5" stroke="#fff" stroke-width="0.9" opacity="0.95"/>
<line x1="686.51" y1="344.6" x2="686.51" y2="394.2" stroke="#fff" stroke-width="0.8" opacity="0.9"/>
<rect x="488" y="412.4" width="21.8" height="15" fill="#1b95d3"/>
<rect x="625.1" y="412.4" width="21.8" height="15" fill="#dc1f2e"/>
<text x="516" y="424.2" font-size="14.5" font-weight="normal" font-style="normal" text-anchor="start" fill="#1d2440" textLength="101" lengthAdjust="spacingAndGlyphs">Passive material</text>
<text x="651.8" y="424.2" font-size="14.5" font-weight="normal" font-style="normal" text-anchor="start" fill="#1d2440" textLength="96" lengthAdjust="spacingAndGlyphs">Active material</text>
<text x="36.7" y="478.1" font-size="14" font-weight="bold" font-style="normal" text-anchor="start" fill="#111" textLength="269" lengthAdjust="spacingAndGlyphs">Result for parabol target shape problem</text>
<text x="405.3" y="478.1" font-size="14" font-weight="bold" font-style="normal" text-anchor="start" fill="#111" textLength="272.2" lengthAdjust="spacingAndGlyphs">Result for sinusoid target shape problem</text>
<rect x="35.7" y="489.4" width="348.2" height="16.4" fill="url(#sb1)" stroke="#2a3434" stroke-width="1.1"/>
<polygon points="35.7,489.04 42.95,489.49 50.21,489.97 57.46,490.5 64.72,491.09 71.97,491.75 79.22,492.48 86.48,493.29 93.73,494.19 100.98,495.19 108.24,496.29 115.49,497.49 122.75,498.81 130,500.24 126.8,517.49 119.79,516.01 112.78,514.66 105.78,513.45 98.77,512.36 91.76,511.38 84.75,510.51 77.75,509.73 70.74,509.02 63.73,508.37 56.72,507.75 49.72,507.14 42.71,506.51 35.7,505.84" fill="#e21f2d" stroke="#e21f2d" stroke-width="0.5"/>
<polygon points="130,500.24 133.36,500.94 136.72,501.67 140.08,502.42 143.45,503.2 146.81,504.01 150.17,504.84 153.53,505.71 156.89,506.59 160.25,507.51 163.62,508.45 166.98,509.42 170.34,510.42 173.7,511.44 168.4,529.14 165.2,528.07 162,527.03 158.8,526.02 155.6,525.03 152.4,524.08 149.2,523.15 146,522.26 142.8,521.39 139.6,520.55 136.4,519.74 133.2,518.96 130,518.21 126.8,517.49" fill="#e4582b" stroke="#e4582b" stroke-width="0.5"/>
<polygon points="173.7,511.44 176,512.16 178.3,512.89 180.6,513.63 182.9,514.39 185.2,515.16 187.5,515.94 189.8,516.73 192.1,517.54 194.4,518.36 196.7,519.19 199,520.04 201.3,520.9 203.6,521.77 197.6,540.06 195.35,539.14 193.11,538.24 190.86,537.36 188.62,536.48 186.37,535.61 184.12,534.76 181.88,533.92 179.63,533.09 177.38,532.27 175.14,531.47 172.89,530.68 170.65,529.9 168.4,529.14" fill="#e2a127" stroke="#e2a127" stroke-width="0.5"/>
<polygon points="203.6,521.77 205.71,522.58 207.82,523.4 209.92,524.24 212.03,525.08 214.14,525.93 216.25,526.8 218.35,527.67 220.46,528.56 222.57,529.45 224.68,530.36 226.78,531.28 228.89,532.2 231,533.14 226.8,552.82 224.55,551.78 222.31,550.75 220.06,549.73 217.82,548.72 215.57,547.72 213.32,546.73 211.08,545.74 208.83,544.77 206.58,543.81 204.34,542.85 202.09,541.91 199.85,540.98 197.6,540.06" fill="#b3cf35" stroke="#b3cf35" stroke-width="0.5"/>
<polygon points="231,533.14 232.88,533.99 234.75,534.84 236.63,535.7 238.51,536.57 240.38,537.44 242.26,538.33 244.14,539.22 246.02,540.12 247.89,541.03 249.77,541.95 251.65,542.87 253.52,543.81 255.4,544.75 251.4,564.69 249.51,563.75 247.62,562.81 245.72,561.87 243.83,560.94 241.94,560.02 240.05,559.1 238.15,558.18 236.26,557.28 234.37,556.37 232.48,555.48 230.58,554.58 228.69,553.7 226.8,552.82" fill="#63bd58" stroke="#63bd58" stroke-width="0.5"/>
<polygon points="255.4,544.75 257.67,545.89 259.94,547.05 262.21,548.22 264.48,549.4 266.75,550.6 269.02,551.8 271.28,553.01 273.55,554.24 275.82,555.48 278.09,556.72 280.36,557.98 282.63,559.25 284.9,560.53 278.9,578.97 276.78,577.83 274.67,576.7 272.55,575.58 270.44,574.46 268.32,573.35 266.21,572.25 264.09,571.15 261.98,570.06 259.86,568.97 257.75,567.89 255.63,566.82 253.52,565.75 251.4,564.69" fill="#3eb45e" stroke="#3eb45e" stroke-width="0.5"/>
<polygon points="284.9,560.53 287.25,561.86 289.59,563.21 291.94,564.56 294.28,565.93 296.63,567.31 298.98,568.69 301.32,570.09 303.67,571.5 306.02,572.92 308.36,574.36 310.71,575.8 313.05,577.25 315.4,578.71 309.7,596.27 307.33,594.88 304.96,593.5 302.59,592.14 300.22,590.78 297.85,589.43 295.48,588.09 293.12,586.76 290.75,585.44 288.38,584.13 286.01,582.83 283.64,581.53 281.27,580.24 278.9,578.97" fill="#2eae66" stroke="#2eae66" stroke-width="0.5"/>
<polygon points="315.4,578.71 316.91,579.66 318.42,580.61 319.92,581.56 321.43,582.52 322.94,583.48 324.45,584.44 325.95,585.41 327.46,586.39 328.97,587.37 330.48,588.35 331.98,589.33 333.49,590.32 335,591.32 329.4,608.34 327.88,607.38 326.37,606.42 324.85,605.47 323.34,604.52 321.82,603.58 320.31,602.65 318.79,601.72 317.28,600.8 315.76,599.89 314.25,598.98 312.73,598.07 311.22,597.17 309.7,596.27" fill="#30b49c" stroke="#30b49c" stroke-width="0.5"/>
<polygon points="335,591.32 336.26,592.15 337.52,592.99 338.78,593.83 340.05,594.68 341.31,595.52 342.57,596.37 343.83,597.22 345.09,598.08 346.35,598.93 347.62,599.79 348.88,600.66 350.14,601.52 351.4,602.39 346.2,619.54 344.91,618.64 343.62,617.75 342.32,616.86 341.03,615.98 339.74,615.11 338.45,614.25 337.15,613.39 335.86,612.53 334.57,611.68 333.28,610.84 331.98,610 330.69,609.17 329.4,608.34" fill="#1f92d4" stroke="#1f92d4" stroke-width="0.5"/>
<polygon points="351.4,602.39 353.05,603.53 354.69,604.67 356.34,605.81 357.98,606.96 359.63,608.12 361.28,609.28 362.92,610.44 364.57,611.61 366.22,612.78 367.86,613.96 369.51,615.14 371.15,616.32 372.8,617.51 362.3,631.35 361.06,630.4 359.82,629.45 358.58,628.51 357.35,627.58 356.11,626.66 354.87,625.75 353.63,624.84 352.39,623.94 351.15,623.04 349.92,622.16 348.68,621.28 347.44,620.4 346.2,619.54" fill="#1b5bb2" stroke="#1b5bb2" stroke-width="0.5"/>
<polygon points="35.7,489.04 41.41,489.39 47.13,489.76 52.84,490.16 58.55,490.59 64.27,491.05 69.98,491.56 75.69,492.11 81.41,492.71 87.12,493.37 92.84,494.07 98.55,494.84 104.26,495.67 109.98,496.57 115.69,497.53 121.4,498.56 127.12,499.66 132.83,500.83 138.54,502.07 144.26,503.4 149.97,504.8 155.68,506.27 161.4,507.83 167.11,509.46 172.83,511.17 178.54,512.96 184.25,514.84 189.97,516.79 195.68,518.82 201.39,520.93 207.11,523.13 212.82,525.4 218.53,527.75 224.25,530.17 229.96,532.68 235.67,535.26 241.39,537.92 247.1,540.65 252.82,543.45 258.53,546.33 264.24,549.28 269.96,552.3 275.67,555.39 281.38,558.55 287.1,561.78 292.81,565.07 298.52,568.43 304.24,571.85 309.95,575.33 315.66,578.88 321.38,582.48 327.09,586.15 332.81,589.87 338.52,593.66 344.23,597.49 349.95,601.39 355.66,605.34 361.37,609.34 367.09,613.4 372.8,617.51 362.3,631.35 356.76,627.15 351.23,623.1 345.69,619.18 340.16,615.39 334.62,611.72 329.09,608.14 323.55,604.65 318.02,601.25 312.48,597.92 306.94,594.66 301.41,591.46 295.87,588.31 290.34,585.21 284.8,582.17 279.27,579.16 273.73,576.2 268.19,573.29 262.66,570.41 257.12,567.58 251.59,564.78 246.05,562.03 240.52,559.33 234.98,556.66 229.45,554.05 223.91,551.48 218.37,548.97 212.84,546.51 207.3,544.11 201.77,541.78 196.23,539.5 190.7,537.29 185.16,535.15 179.63,533.09 174.09,531.1 168.55,529.19 163.02,527.36 157.48,525.61 151.95,523.95 146.41,522.37 140.88,520.88 135.34,519.48 129.81,518.16 124.27,516.94 118.73,515.79 113.2,514.74 107.66,513.76 102.13,512.86 96.59,512.04 91.06,511.29 85.52,510.6 79.98,509.97 74.45,509.39 68.91,508.85 63.38,508.34 57.84,507.85 52.31,507.37 46.77,506.88 41.24,506.38 35.7,505.84" fill="none" stroke="#14201a" stroke-width="1.3" stroke-linejoin="miter"/>
<line x1="36" y1="505.8" x2="156" y2="505.8" stroke="#5a0d10" stroke-width="1.0" opacity="0.55"/>
<rect x="404.2" y="489.4" width="348" height="16.3" fill="url(#sb2)" stroke="#2a3434" stroke-width="1.1"/>
<polygon points="404.2,489.45 409.37,489.19 414.54,489.11 419.71,489.18 424.88,489.39 430.05,489.7 435.22,490.11 440.38,490.61 445.55,491.18 450.72,491.82 455.89,492.53 461.06,493.3 466.23,494.12 471.4,495.01 467,510.82 462.17,510.01 457.34,509.3 452.51,508.68 447.68,508.16 442.85,507.73 438.02,507.38 433.18,507.11 428.35,506.89 423.52,506.7 418.69,506.52 413.86,506.31 409.03,506.04 404.2,505.66" fill="#e21f2d" stroke="#e21f2d" stroke-width="0.5"/>
<polygon points="471.4,495.01 473.72,495.42 476.05,495.85 478.37,496.29 480.69,496.74 483.02,497.2 485.34,497.67 487.66,498.15 489.98,498.65 492.31,499.15 494.63,499.67 496.95,500.2 499.28,500.74 501.6,501.29 497.9,517.98 495.52,517.33 493.15,516.69 490.77,516.07 488.39,515.46 486.02,514.87 483.64,514.3 481.26,513.74 478.88,513.2 476.51,512.68 474.13,512.19 471.75,511.71 469.38,511.25 467,510.82" fill="#e4582b" stroke="#e4582b" stroke-width="0.5"/>
<polygon points="501.6,501.29 503.15,501.66 504.71,502.04 506.26,502.42 507.82,502.81 509.37,503.2 510.92,503.6 512.48,504 514.03,504.4 515.58,504.81 517.14,505.22 518.69,505.64 520.25,506.06 521.8,506.49 519,524.16 517.38,523.67 515.75,523.17 514.13,522.68 512.51,522.2 510.88,521.71 509.26,521.23 507.64,520.75 506.02,520.28 504.39,519.81 502.77,519.34 501.15,518.88 499.52,518.43 497.9,517.98" fill="#e2a127" stroke="#e2a127" stroke-width="0.5"/>
<polygon points="521.8,506.49 523.46,506.95 525.12,507.42 526.78,507.88 528.45,508.36 530.11,508.83 531.77,509.31 533.43,509.8 535.09,510.29 536.75,510.78 538.42,511.27 540.08,511.77 541.74,512.27 543.4,512.77 540.6,530.84 538.94,530.32 537.28,529.81 535.62,529.3 533.95,528.78 532.29,528.26 530.63,527.75 528.97,527.23 527.31,526.72 525.65,526.21 523.98,525.69 522.32,525.18 520.66,524.67 519,524.16" fill="#b3cf35" stroke="#b3cf35" stroke-width="0.5"/>
<polygon points="543.4,512.77 544.65,513.15 545.91,513.53 547.16,513.92 548.42,514.3 549.67,514.69 550.92,515.08 552.18,515.47 553.43,515.86 554.68,516.25 555.94,516.64 557.19,517.03 558.45,517.42 559.7,517.81 558.8,536.37 557.4,535.95 556,535.53 554.6,535.11 553.2,534.69 551.8,534.27 550.4,533.84 549,533.42 547.6,532.99 546.2,532.56 544.8,532.13 543.4,531.7 542,531.27 540.6,530.84" fill="#63bd58" stroke="#63bd58" stroke-width="0.5"/>
<polygon points="559.7,517.81 562.9,518.82 566.1,519.82 569.3,520.82 572.5,521.83 575.7,522.83 578.9,523.82 582.1,524.81 585.3,525.79 588.5,526.76 591.7,527.73 594.9,528.68 598.1,529.62 601.3,530.55 599.2,547.67 596.09,546.85 592.98,546.03 589.88,545.2 586.77,544.35 583.66,543.5 580.55,542.64 577.45,541.77 574.34,540.89 571.23,540.01 568.12,539.11 565.02,538.2 561.91,537.29 558.8,536.37" fill="#3eb45e" stroke="#3eb45e" stroke-width="0.5"/>
<polygon points="601.3,530.55 603.18,531.08 605.07,531.62 606.95,532.15 608.84,532.67 610.72,533.19 612.61,533.7 614.49,534.21 616.38,534.71 618.26,535.21 620.15,535.7 622.03,536.18 623.92,536.66 625.8,537.13 623.6,553.83 621.72,553.37 619.85,552.91 617.97,552.45 616.09,551.98 614.22,551.51 612.34,551.04 610.46,550.57 608.58,550.09 606.71,549.62 604.83,549.13 602.95,548.65 601.08,548.16 599.2,547.67" fill="#2eae66" stroke="#2eae66" stroke-width="0.5"/>
<polygon points="625.8,537.13 628.18,537.71 630.57,538.29 632.95,538.86 635.34,539.41 637.72,539.96 640.11,540.5 642.49,541.03 644.88,541.55 647.26,542.06 649.65,542.56 652.03,543.06 654.42,543.54 656.8,544.02 654.1,560.95 651.75,560.42 649.41,559.9 647.06,559.36 644.72,558.83 642.37,558.29 640.02,557.74 637.68,557.2 635.33,556.65 632.98,556.09 630.64,555.53 628.29,554.97 625.95,554.4 623.6,553.83" fill="#30b49c" stroke="#30b49c" stroke-width="0.5"/>
<polygon points="656.8,544.02 658.88,544.43 660.97,544.84 663.05,545.25 665.14,545.64 667.22,546.04 669.31,546.43 671.39,546.82 673.48,547.2 675.56,547.58 677.65,547.96 679.73,548.34 681.82,548.71 683.9,549.09 680.7,566.51 678.65,566.11 676.61,565.7 674.56,565.29 672.52,564.88 670.47,564.46 668.42,564.03 666.38,563.6 664.33,563.17 662.28,562.73 660.24,562.29 658.19,561.85 656.15,561.4 654.1,560.95" fill="#1f92d4" stroke="#1f92d4" stroke-width="0.5"/>
<polygon points="683.9,549.09 686.18,549.5 688.45,549.9 690.73,550.31 693.01,550.72 695.28,551.12 697.56,551.53 699.84,551.94 702.12,552.35 704.39,552.76 706.67,553.18 708.95,553.59 711.22,554.01 713.5,554.43 710.3,571.75 708.02,571.39 705.75,571.01 703.47,570.63 701.19,570.25 698.92,569.86 696.64,569.46 694.36,569.06 692.08,568.65 689.81,568.24 687.53,567.81 685.25,567.39 682.98,566.95 680.7,566.51" fill="#1b5bb2" stroke="#1b5bb2" stroke-width="0.5"/>
<polygon points="713.5,554.43 716.78,555.04 720.07,555.64 723.35,556.25 726.64,556.86 729.92,557.46 733.21,558.06 736.49,558.65 739.78,559.22 743.06,559.77 746.35,560.29 749.63,560.78 752.92,561.22 756.2,561.61 753.9,579.51 750.55,578.71 747.19,577.97 743.84,577.29 740.48,576.66 737.13,576.06 733.78,575.49 730.42,574.94 727.07,574.4 723.72,573.87 720.36,573.35 717.01,572.82 713.65,572.29 710.3,571.75" fill="#2347a0" stroke="#2347a0" stroke-width="0.5"/>
<polygon points="404.2,489.45 410.17,489.17 416.13,489.12 422.1,489.26 428.06,489.57 434.03,490.01 440,490.57 445.96,491.23 451.93,491.98 457.89,492.82 463.86,493.74 469.83,494.73 475.79,495.8 481.76,496.95 487.73,498.17 493.69,499.46 499.66,500.83 505.62,502.26 511.59,503.77 517.56,505.34 523.52,506.97 529.49,508.65 535.45,510.39 541.42,512.17 547.39,513.99 553.35,515.83 559.32,517.69 565.28,519.56 571.25,521.44 577.22,523.3 583.18,525.14 589.15,526.96 595.12,528.74 601.08,530.48 607.05,532.17 613.01,533.81 618.98,535.39 624.95,536.91 630.91,538.37 636.88,539.77 642.84,541.11 648.81,542.39 654.78,543.62 660.74,544.8 666.71,545.94 672.67,547.05 678.64,548.14 684.61,549.21 690.57,550.28 696.54,551.35 702.51,552.42 708.47,553.51 714.44,554.6 720.4,555.71 726.37,556.81 732.34,557.9 738.3,558.96 744.27,559.96 750.23,560.86 756.2,561.61 753.9,579.51 747.97,578.14 742.05,576.95 736.12,575.89 730.19,574.9 724.26,573.96 718.34,573.03 712.41,572.09 706.48,571.13 700.56,570.14 694.63,569.11 688.7,568.03 682.77,566.91 676.85,565.75 670.92,564.55 664.99,563.31 659.07,562.04 653.14,560.73 647.21,559.4 641.28,558.04 635.36,556.65 629.43,555.24 623.5,553.81 617.58,552.35 611.65,550.87 605.72,549.36 599.79,547.83 593.87,546.26 587.94,544.67 582.01,543.05 576.09,541.39 570.16,539.7 564.23,537.98 558.31,536.22 552.38,534.44 546.45,532.64 540.52,530.81 534.6,528.98 528.67,527.14 522.74,525.31 516.82,523.5 510.89,521.71 504.96,519.97 499.03,518.29 493.11,516.68 487.18,515.16 481.25,513.74 475.33,512.43 469.4,511.26 463.47,510.22 457.54,509.33 451.62,508.58 445.69,507.97 439.76,507.5 433.84,507.14 427.91,506.87 421.98,506.64 416.05,506.41 410.13,506.11 404.2,505.66" fill="none" stroke="#14201a" stroke-width="1.3" stroke-linejoin="miter"/>
<line x1="404.6" y1="505.7" x2="519" y2="505.7" stroke="#5a0d10" stroke-width="1.0" opacity="0.55"/>
<rect x="54.2" y="519.3" width="11.9" height="12.62" fill="#e21f2d"/>
<rect x="54.2" y="531.72" width="11.9" height="12.62" fill="#e4582b"/>
<rect x="54.2" y="544.14" width="11.9" height="12.62" fill="#e2a127"/>
<rect x="54.2" y="556.56" width="11.9" height="12.62" fill="#b3cf35"/>
<rect x="54.2" y="568.98" width="11.9" height="12.62" fill="#63bd58"/>
<rect x="54.2" y="581.4" width="11.9" height="12.62" fill="#3eb45e"/>
<rect x="54.2" y="593.82" width="11.9" height="12.62" fill="#2eae66"/>
<rect x="54.2" y="606.24" width="11.9" height="12.62" fill="#25aa6c"/>
<rect x="54.2" y="618.66" width="11.9" height="12.62" fill="#30b49c"/>
<rect x="54.2" y="631.08" width="11.9" height="12.62" fill="#1f92d4"/>
<rect x="54.2" y="643.5" width="11.9" height="12.62" fill="#1b5bb2"/>
<rect x="54.2" y="655.92" width="11.9" height="12.62" fill="#2347a0"/>
<g stroke="#14211b" stroke-width="1" stroke-opacity="0.9" fill="none">
<line x1="54.2" y1="531.72" x2="66.1" y2="531.72"/>
<line x1="54.2" y1="544.14" x2="66.1" y2="544.14"/>
<line x1="54.2" y1="556.56" x2="66.1" y2="556.56"/>
<line x1="54.2" y1="568.98" x2="66.1" y2="568.98"/>
<line x1="54.2" y1="581.4" x2="66.1" y2="581.4"/>
<line x1="54.2" y1="593.82" x2="66.1" y2="593.82"/>
<line x1="54.2" y1="606.24" x2="66.1" y2="606.24"/>
<line x1="54.2" y1="618.66" x2="66.1" y2="618.66"/>
<line x1="54.2" y1="631.08" x2="66.1" y2="631.08"/>
<line x1="54.2" y1="643.5" x2="66.1" y2="643.5"/>
<line x1="54.2" y1="655.92" x2="66.1" y2="655.92"/>
<rect x="54.2" y="519.3" width="11.9" height="149.04"/>
</g>
<text x="69.2" y="528.7" font-size="12.2" font-weight="normal" font-style="normal" text-anchor="start" fill="#1d2440" textLength="22.65" lengthAdjust="spacingAndGlyphs">0.06</text>
<text x="69.2" y="540.29" font-size="12.2" font-weight="normal" font-style="normal" text-anchor="start" fill="#1d2440" textLength="29.65" lengthAdjust="spacingAndGlyphs">−1.58</text>
<text x="69.2" y="551.88" font-size="12.2" font-weight="normal" font-style="normal" text-anchor="start" fill="#1d2440" textLength="29.65" lengthAdjust="spacingAndGlyphs">−3.22</text>
<text x="69.2" y="563.47" font-size="12.2" font-weight="normal" font-style="normal" text-anchor="start" fill="#1d2440" textLength="29.65" lengthAdjust="spacingAndGlyphs">−4.86</text>
<text x="69.2" y="575.06" font-size="12.2" font-weight="normal" font-style="normal" text-anchor="start" fill="#1d2440" textLength="29.65" lengthAdjust="spacingAndGlyphs">−6.50</text>
<text x="69.2" y="586.65" font-size="12.2" font-weight="normal" font-style="normal" text-anchor="start" fill="#1d2440" textLength="29.65" lengthAdjust="spacingAndGlyphs">−8.14</text>
<text x="69.2" y="598.24" font-size="12.2" font-weight="normal" font-style="normal" text-anchor="start" fill="#1d2440" textLength="29.65" lengthAdjust="spacingAndGlyphs">−9.78</text>
<text x="69.2" y="609.83" font-size="12.2" font-weight="normal" font-style="normal" text-anchor="start" fill="#1d2440" textLength="36.1" lengthAdjust="spacingAndGlyphs">−11.42</text>
<text x="69.2" y="621.42" font-size="12.2" font-weight="normal" font-style="normal" text-anchor="start" fill="#1d2440" textLength="36.1" lengthAdjust="spacingAndGlyphs">−13.06</text>
<text x="69.2" y="633.01" font-size="12.2" font-weight="normal" font-style="normal" text-anchor="start" fill="#1d2440" textLength="36.1" lengthAdjust="spacingAndGlyphs">−14.70</text>
<text x="69.2" y="644.6" font-size="12.2" font-weight="normal" font-style="normal" text-anchor="start" fill="#1d2440" textLength="36.1" lengthAdjust="spacingAndGlyphs">−16.34</text>
<text x="69.2" y="656.19" font-size="12.2" font-weight="normal" font-style="normal" text-anchor="start" fill="#1d2440" textLength="36.1" lengthAdjust="spacingAndGlyphs">−17.98</text>
<text x="69.2" y="667.78" font-size="12.2" font-weight="normal" font-style="normal" text-anchor="start" fill="#1d2440" textLength="36.1" lengthAdjust="spacingAndGlyphs">−19.62</text>
<text transform="translate(44.6,668.2) rotate(-90)" font-size="14.6" fill="#1d2440" textLength="148.5" lengthAdjust="spacingAndGlyphs">Displacement in <tspan font-style="italic">y</tspan> (mm)</text>
<rect x="422.9" y="519.3" width="11.9" height="12.62" fill="#e21f2d"/>
<rect x="422.9" y="531.72" width="11.9" height="12.62" fill="#e4582b"/>
<rect x="422.9" y="544.14" width="11.9" height="12.62" fill="#e2a127"/>
<rect x="422.9" y="556.56" width="11.9" height="12.62" fill="#b3cf35"/>
<rect x="422.9" y="568.98" width="11.9" height="12.62" fill="#63bd58"/>
<rect x="422.9" y="581.4" width="11.9" height="12.62" fill="#3eb45e"/>
<rect x="422.9" y="593.82" width="11.9" height="12.62" fill="#2eae66"/>
<rect x="422.9" y="606.24" width="11.9" height="12.62" fill="#25aa6c"/>
<rect x="422.9" y="618.66" width="11.9" height="12.62" fill="#30b49c"/>
<rect x="422.9" y="631.08" width="11.9" height="12.62" fill="#1f92d4"/>
<rect x="422.9" y="643.5" width="11.9" height="12.62" fill="#1b5bb2"/>
<rect x="422.9" y="655.92" width="11.9" height="12.62" fill="#2347a0"/>
<g stroke="#14211b" stroke-width="1" stroke-opacity="0.9" fill="none">
<line x1="422.9" y1="531.72" x2="434.8" y2="531.72"/>
<line x1="422.9" y1="544.14" x2="434.8" y2="544.14"/>
<line x1="422.9" y1="556.56" x2="434.8" y2="556.56"/>
<line x1="422.9" y1="568.98" x2="434.8" y2="568.98"/>
<line x1="422.9" y1="581.4" x2="434.8" y2="581.4"/>
<line x1="422.9" y1="593.82" x2="434.8" y2="593.82"/>
<line x1="422.9" y1="606.24" x2="434.8" y2="606.24"/>
<line x1="422.9" y1="618.66" x2="434.8" y2="618.66"/>
<line x1="422.9" y1="631.08" x2="434.8" y2="631.08"/>
<line x1="422.9" y1="643.5" x2="434.8" y2="643.5"/>
<line x1="422.9" y1="655.92" x2="434.8" y2="655.92"/>
<rect x="422.9" y="519.3" width="11.9" height="149.04"/>
</g>
<text x="437.9" y="528.7" font-size="12.2" font-weight="normal" font-style="normal" text-anchor="start" fill="#1d2440" textLength="22.65" lengthAdjust="spacingAndGlyphs">0.02</text>
<text x="437.9" y="540.29" font-size="12.2" font-weight="normal" font-style="normal" text-anchor="start" fill="#1d2440" textLength="29.65" lengthAdjust="spacingAndGlyphs">−0.85</text>
<text x="437.9" y="551.88" font-size="12.2" font-weight="normal" font-style="normal" text-anchor="start" fill="#1d2440" textLength="29.65" lengthAdjust="spacingAndGlyphs">−1.72</text>
<text x="437.9" y="563.47" font-size="12.2" font-weight="normal" font-style="normal" text-anchor="start" fill="#1d2440" textLength="29.65" lengthAdjust="spacingAndGlyphs">−2.59</text>
<text x="437.9" y="575.06" font-size="12.2" font-weight="normal" font-style="normal" text-anchor="start" fill="#1d2440" textLength="29.65" lengthAdjust="spacingAndGlyphs">−3.46</text>
<text x="437.9" y="586.65" font-size="12.2" font-weight="normal" font-style="normal" text-anchor="start" fill="#1d2440" textLength="29.65" lengthAdjust="spacingAndGlyphs">−4.33</text>
<text x="437.9" y="598.24" font-size="12.2" font-weight="normal" font-style="normal" text-anchor="start" fill="#1d2440" textLength="29.65" lengthAdjust="spacingAndGlyphs">−5.20</text>
<text x="437.9" y="609.83" font-size="12.2" font-weight="normal" font-style="normal" text-anchor="start" fill="#1d2440" textLength="29.65" lengthAdjust="spacingAndGlyphs">−6.07</text>
<text x="437.9" y="621.42" font-size="12.2" font-weight="normal" font-style="normal" text-anchor="start" fill="#1d2440" textLength="29.65" lengthAdjust="spacingAndGlyphs">−6.94</text>
<text x="437.9" y="633.01" font-size="12.2" font-weight="normal" font-style="normal" text-anchor="start" fill="#1d2440" textLength="29.65" lengthAdjust="spacingAndGlyphs">−7.81</text>
<text x="437.9" y="644.6" font-size="12.2" font-weight="normal" font-style="normal" text-anchor="start" fill="#1d2440" textLength="29.65" lengthAdjust="spacingAndGlyphs">−8.68</text>
<text x="437.9" y="656.19" font-size="12.2" font-weight="normal" font-style="normal" text-anchor="start" fill="#1d2440" textLength="29.65" lengthAdjust="spacingAndGlyphs">−9.55</text>
<text x="437.9" y="667.78" font-size="12.2" font-weight="normal" font-style="normal" text-anchor="start" fill="#1d2440" textLength="36.1" lengthAdjust="spacingAndGlyphs">−10.42</text>
<text transform="translate(413.3,668.2) rotate(-90)" font-size="14.6" fill="#1d2440" textLength="148.5" lengthAdjust="spacingAndGlyphs">Displacement in <tspan font-style="italic">y</tspan> (mm)</text>
<path d="M168.3,548.2 L168.3,585.5 L205.9,585.5" fill="none" stroke="#3f4953" stroke-width="1.45" stroke-linejoin="miter"/>
<path d="M168.3,543.2 L171.7,551 L168.3,548.8 L164.9,551 Z" fill="#3f4953"/>
<path d="M210.9,585.5 L203.1,582.1 L205.3,585.5 L203.1,588.9 Z" fill="#3f4953"/>
<text x="174" y="551" font-size="12.2" font-weight="normal" font-style="italic" text-anchor="start" fill="#2c3138" textLength="7" lengthAdjust="spacingAndGlyphs">y</text>
<text x="200.7" y="575.3" font-size="12.2" font-weight="normal" font-style="italic" text-anchor="start" fill="#2c3138" textLength="6.8" lengthAdjust="spacingAndGlyphs">x</text>
<path d="M552.5,548.2 L552.5,585.5 L590.1,585.5" fill="none" stroke="#3f4953" stroke-width="1.45" stroke-linejoin="miter"/>
<path d="M552.5,543.2 L555.9,551 L552.5,548.8 L549.1,551 Z" fill="#3f4953"/>
<path d="M595.1,585.5 L587.3,582.1 L589.5,585.5 L587.3,588.9 Z" fill="#3f4953"/>
<text x="558.2" y="551" font-size="12.2" font-weight="normal" font-style="italic" text-anchor="start" fill="#2c3138" textLength="7" lengthAdjust="spacingAndGlyphs">y</text>
<text x="584.9" y="575.3" font-size="12.2" font-weight="normal" font-style="italic" text-anchor="start" fill="#2c3138" textLength="6.8" lengthAdjust="spacingAndGlyphs">x</text>
</svg>
</body></html>
